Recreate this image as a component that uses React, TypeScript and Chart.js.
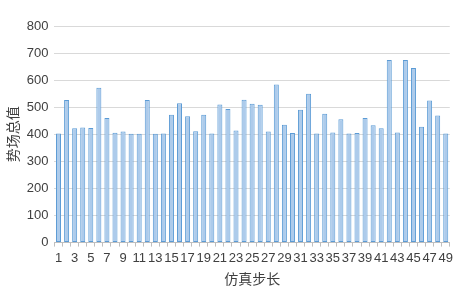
import React, { useEffect, useRef } from "react";
import { Chart, registerables } from "chart.js";

Chart.register(...registerables);

const categories: string[] = Array.from({ length: 49 }, (_, i) => String(i + 1));
const values: number[] = [
  403, 527, 422, 425, 423, 572, 460, 406, 410, 402,
  402, 527, 402, 403, 472, 515, 467, 411, 472, 403,
  510, 493, 414, 528, 513, 509, 410, 584, 435, 405,
  491, 550, 403, 476, 407, 456, 403, 405, 460, 433,
  422, 674, 407, 674, 645, 428, 525, 469, 403,
];
const yTitle = "势场总值";
const xTitle = "仿真步长";

export default function App() {
  const ref = useRef<HTMLCanvasElement | null>(null);
  useEffect(() => {
    const canvas = ref.current;
    if (!canvas) return;
    const ctx = canvas.getContext("2d")!;
    const chart = new Chart(ctx, {
      type: "bar",
      data: {
        labels: categories,
        datasets: [
          {
            data: values,
            backgroundColor: "#adcbeb",
            borderColor: "#5b9bd5",
            borderWidth: 1,
            borderSkipped: false,
            categoryPercentage: 1,
            barPercentage: 0.62,
          },
        ],
      },
      options: {
        responsive: false,
        animation: false,
        layout: { padding: { left: 4, right: 3, top: 26, bottom: 1 } },
        plugins: { legend: { display: false }, tooltip: { enabled: false } },
        scales: {
          x: {
            offset: true,
            grid: {
              display: true,
              drawOnChartArea: false,
              drawTicks: true,
              tickLength: 4,
              color: "#bfbfbf",
              offset: true,
            },
            border: { display: true, color: "#bfbfbf" },
            ticks: {
              autoSkip: false,
              maxRotation: 0,
              minRotation: 0,
              color: "#404040",
              font: { family: "'Liberation Sans', Arial, sans-serif", size: 13 },
              padding: 4,
              callback: (_v: any, i: number) => (i % 2 === 0 ? categories[i] : ""),
            },
            title: {
              display: true,
              text: xTitle,
              color: "#404040",
              font: { family: "'Noto Sans CJK SC', sans-serif", size: 14 },
              padding: { top: 0, bottom: 0 },
            },
          },
          y: {
            min: 0,
            max: 800,
            ticks: {
              stepSize: 100,
              color: "#404040",
              font: { family: "'Liberation Sans', Arial, sans-serif", size: 13 },
              padding: 6,
            },
            grid: { color: "#d9d9d9", drawTicks: false, lineWidth: 1 },
            border: { display: false },
            title: {
              display: true,
              text: yTitle,
              color: "#404040",
              font: { family: "'Noto Sans CJK SC', sans-serif", size: 14 },
              padding: { top: 0, bottom: 0 },
            },
          },
        },
      },
    });
    return () => chart.destroy();
  }, []);
  return (
    <div style={{ position: "fixed", left: 0, top: 0, width: 457, height: 288, background: "#fff" }}>
      <canvas ref={ref} width={457} height={288} />
    </div>
  );
}
